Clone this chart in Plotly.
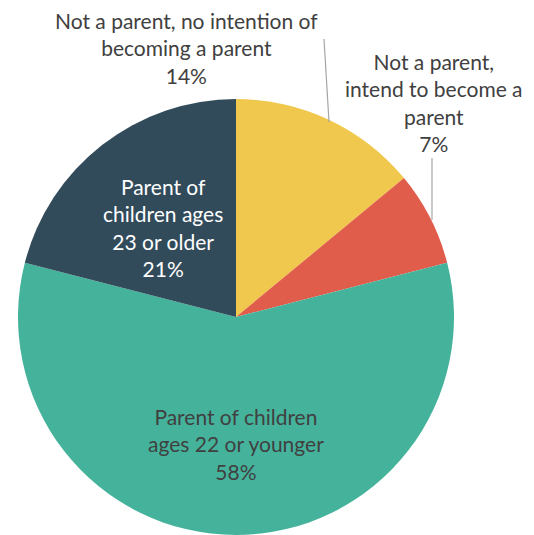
import plotly.graph_objects as go

# Share of respondents by parental status
labels = [
    "Not a parent, no intention of<br>becoming a parent",
    "Not a parent,<br>intend to become a<br>parent",
    "Parent of children<br>ages 22 or younger",
    "Parent of<br>children ages<br>23 or older",
]
values = [14, 7, 58, 21]
colors = ["#F0C84D", "#E05C4B", "#45B39C", "#324B5B"]
text_colors = ["#404040", "#404040", "#404040", "#FFFFFF"]

W, H = 534, 535
FONT = "Lato, 'Open Sans', sans-serif"


def px(x):
    return x / W


def py(y):
    return 1 - y / H


fig = go.Figure(
    go.Pie(
        labels=labels,
        values=values,
        sort=False,
        direction="clockwise",
        rotation=0,
        marker=dict(colors=colors, line=dict(width=0)),
        textinfo="none",
        hoverinfo="label+percent",
        showlegend=False,
        domain=dict(x=[px(18), px(454)], y=[py(535), py(99)]),
    )
)

# Label placement (pixel centres) and optional leader lines per slice
label_pos = [(186, 48), (434, 102), (236, 444), (163, 227)]
leaders = [[(329, 122), (324, 39)], [(432, 220), (432, 158)], None, None]

for i, (cx, cy) in enumerate(label_pos):
    fig.add_annotation(
        x=px(cx), y=py(cy), xref="paper", yref="paper",
        xanchor="center", yanchor="middle",
        text=f"{labels[i]}<br>{values[i]}%",
        showarrow=False, align="center",
        font=dict(family=FONT, size=21, color=text_colors[i]),
    )
    if leaders[i]:
        (x0, y0), (x1, y1) = leaders[i]
        fig.add_shape(
            type="line", xref="paper", yref="paper",
            x0=px(x0), y0=py(y0), x1=px(x1), y1=py(y1),
            line=dict(color="#A6A6A6", width=1.2),
        )

fig.update_layout(
    width=W, height=H,
    margin=dict(l=0, r=0, t=0, b=0),
    paper_bgcolor="white",
    plot_bgcolor="white",
)

fig.write_html("out.html")
